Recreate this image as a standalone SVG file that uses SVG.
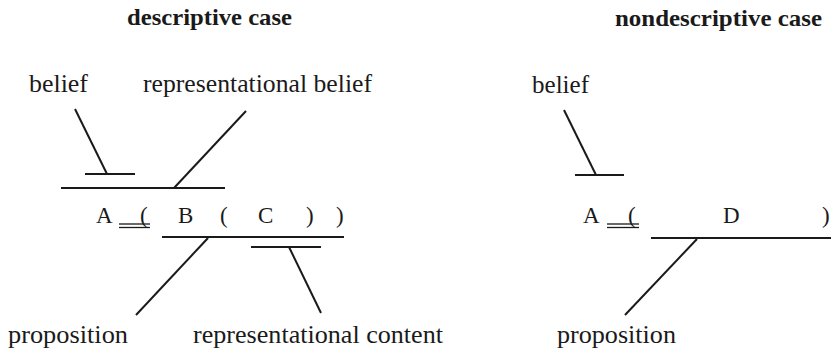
<svg xmlns="http://www.w3.org/2000/svg" width="831" height="354" viewBox="0 0 831 354">
<style>
text{font-family:"Liberation Serif","DejaVu Serif","Times New Roman",serif;fill:#1a1a1a}
.lbl{font-size:25px}
.sym{font-size:23px}
.ttl{font-size:23px;font-weight:bold}
line{stroke:#1a1a1a;stroke-width:2;stroke-linecap:butt}
.thin{stroke-width:1.3}
</style>
<rect width="831" height="354" fill="#fff"/>
<g id="titles" font-family="Liberation Serif, serif">
<text class="ttl" x="127" y="25" textLength="165" lengthAdjust="spacingAndGlyphs">descriptive case</text>
<text class="ttl" x="615" y="26" textLength="207" lengthAdjust="spacingAndGlyphs">nondescriptive case</text>
</g>
<g id="descriptive">
<g id="d-belief"><text class="lbl" x="29" y="92" textLength="59" lengthAdjust="spacingAndGlyphs">belief</text></g>
<g id="d-repbelief"><text class="lbl" x="143" y="92" textLength="229" lengthAdjust="spacingAndGlyphs">representational belief</text></g>
<g id="d-formula">
<text class="sym" x="96" y="223">A</text>
<line class="thin" x1="119" y1="224" x2="150" y2="224"/>
<line class="thin" x1="119" y1="227.5" x2="150" y2="227.5"/>
<text class="sym" x="140" y="223">(</text>
<text class="sym" x="178" y="223">B</text>
<text class="sym" x="220" y="223">(</text>
<text class="sym" x="258" y="223">C</text>
<text class="sym" x="306" y="223">)</text>
<text class="sym" x="336" y="223">)</text>
</g>
<g id="d-proposition"><text class="lbl" x="8" y="343" textLength="120" lengthAdjust="spacingAndGlyphs">proposition</text></g>
<g id="d-repcontent"><text class="lbl" x="193" y="343" textLength="250" lengthAdjust="spacingAndGlyphs">representational content</text></g>
</g>
<g id="nondescriptive">
<g id="n-belief"><text class="lbl" x="532" y="93" textLength="57" lengthAdjust="spacingAndGlyphs">belief</text></g>
<g id="n-formula">
<text class="sym" x="583" y="223">A</text>
<line class="thin" x1="607" y1="224" x2="639" y2="224"/>
<line class="thin" x1="607" y1="227.5" x2="639" y2="227.5"/>
<text class="sym" x="628" y="223">(</text>
<text class="sym" x="723" y="223">D</text>
<text class="sym" x="822" y="223">)</text>
</g>
<g id="n-proposition"><text class="lbl" x="557" y="343" textLength="119" lengthAdjust="spacingAndGlyphs">proposition</text></g>
</g>
<g id="connectors">
<line x1="75" y1="109" x2="107" y2="174"/>
<line x1="85" y1="174" x2="135" y2="174"/>
<line x1="246" y1="111" x2="174" y2="188"/>
<line x1="61" y1="188" x2="225" y2="188"/>
<line x1="162" y1="237" x2="344" y2="237"/>
<line x1="251" y1="247" x2="321" y2="247"/>
<line x1="208" y1="238" x2="136" y2="315"/>
<line x1="289" y1="247" x2="321" y2="313"/>
<line x1="564" y1="110" x2="596" y2="175"/>
<line x1="575" y1="175" x2="624" y2="175"/>
<line x1="651" y1="238" x2="831" y2="238"/>
<line x1="697" y1="239" x2="625" y2="315"/>
</g>
</svg>
